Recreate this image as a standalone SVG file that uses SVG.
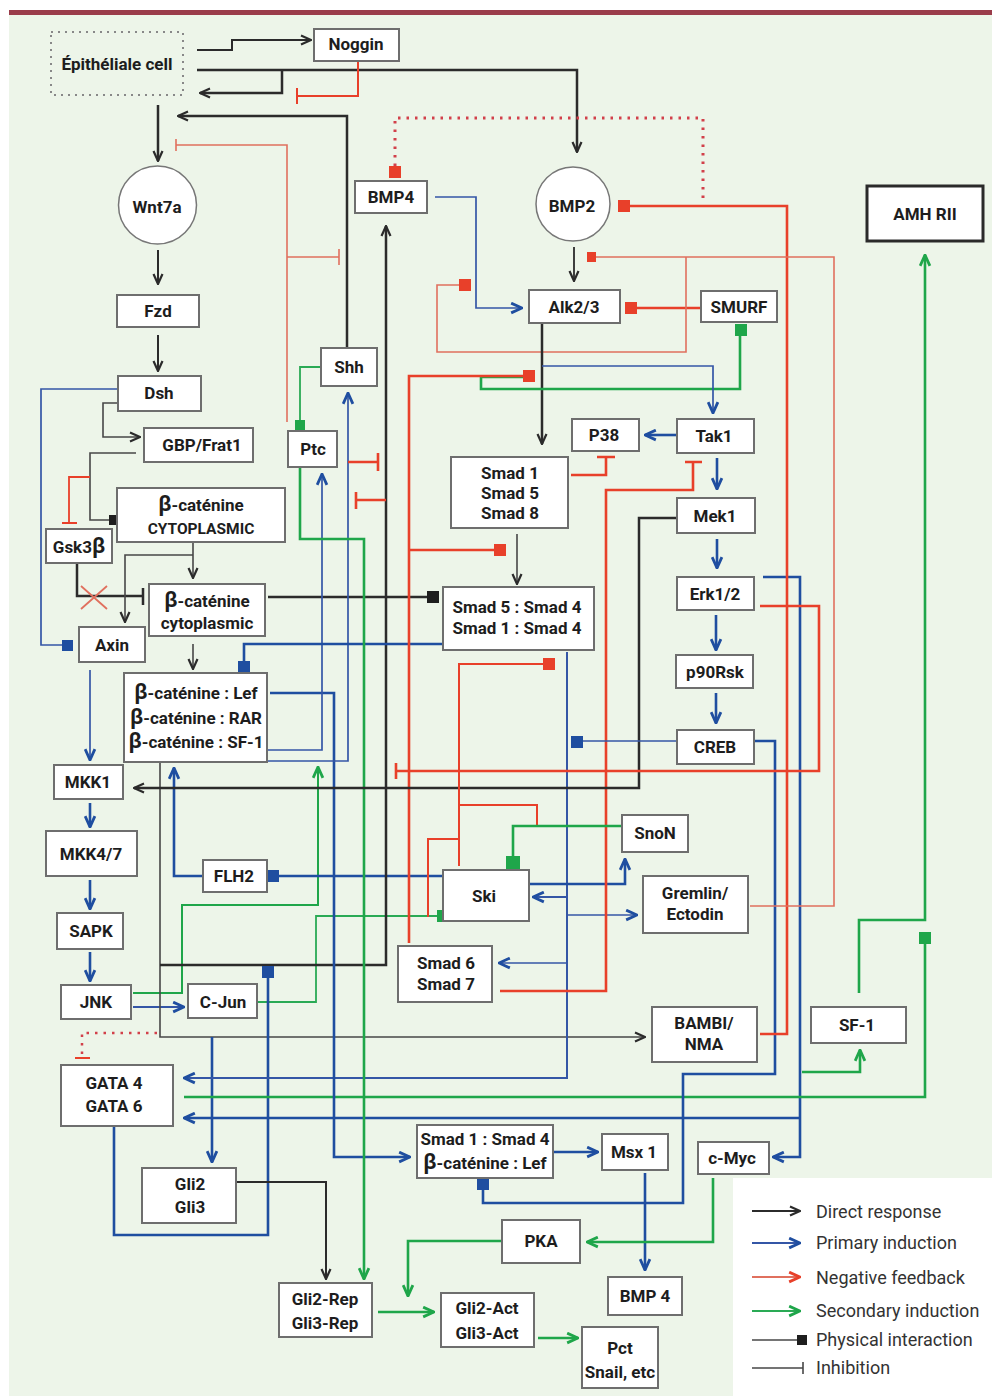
<svg xmlns="http://www.w3.org/2000/svg" width="992" height="1396" viewBox="0 0 992 1396">
<style>
.bg{fill:#edf5e9}
.box{fill:#fff;stroke:#6e6e6e;stroke-width:2}
.circ{fill:#fff;stroke:#777;stroke-width:1.5}
.lbl{font-family:Roboto,'Liberation Sans',sans-serif;font-weight:bold;font-size:17px;fill:#1d1d1d;text-anchor:middle}
.beta{font-size:22px}
.leg{font-family:Roboto,'Liberation Sans',sans-serif;font-size:18px;fill:#333}
.k{stroke:#2b2b2b;stroke-width:2.5;fill:none}
.kt{stroke:#474747;stroke-width:1.6;fill:none}
.b{stroke:#1f4ea0;stroke-width:2.6;fill:none}
.bt{stroke:#3456a6;stroke-width:1.7;fill:none}
.r{stroke:#e8402a;stroke-width:2.6;fill:none}
.rt{stroke:#e0705e;stroke-width:1.6;fill:none}
.rd{stroke:#d2404a;stroke-width:3;fill:none;stroke-dasharray:2.5,6}
.g{stroke:#1fa64a;stroke-width:2.6;fill:none}
.gt{stroke:#2aaa55;stroke-width:1.8;fill:none}
.sqk{fill:#1e1e1e}
.sqb{fill:#1f4ea0}
.sqr{fill:#e8402a}
.sqg{fill:#1fa64a}
</style>
<defs>
<marker id="ak" viewBox="0 0 12 12" refX="11" refY="6" markerWidth="12" markerHeight="12" markerUnits="userSpaceOnUse" orient="auto"><path d="M1,1.5 L11,6 L1,10.5" fill="none" stroke="#2b2b2b" stroke-width="2.2"/></marker>
<marker id="ab" viewBox="0 0 12 12" refX="11" refY="6" markerWidth="13" markerHeight="13" markerUnits="userSpaceOnUse" orient="auto"><path d="M1,1.5 L11,6 L1,10.5" fill="none" stroke="#1f4ea0" stroke-width="2.6"/></marker>
<marker id="ag" viewBox="0 0 12 12" refX="11" refY="6" markerWidth="13" markerHeight="13" markerUnits="userSpaceOnUse" orient="auto"><path d="M1,1.5 L11,6 L1,10.5" fill="none" stroke="#1fa64a" stroke-width="2.6"/></marker>
<marker id="ar" viewBox="0 0 12 12" refX="11" refY="6" markerWidth="13" markerHeight="13" markerUnits="userSpaceOnUse" orient="auto"><path d="M1,1.5 L11,6 L1,10.5" fill="none" stroke="#e8402a" stroke-width="2.6"/></marker>
</defs>
<rect width="992" height="1396" fill="#fff"/>
<rect class="bg" x="9" y="15" width="983" height="1381"/>
<rect x="9" y="10" width="983" height="5" fill="#9a3c4a"/>
<rect x="733" y="1178" width="259" height="218" fill="#fff"/>

<g id="connectors">
<path class="k" style="stroke-width:2" d="M197,50 H232 V40 H311" marker-end="url(#ak)"/>
<path class="k" d="M197,70 H577 V152" marker-end="url(#ak)"/>
<path class="k" d="M282,70 V93 H200" marker-end="url(#ak)"/>
<path class="r" style="stroke-width:2" d="M358,61 V96 H297 M297,88 V104"/>
<path class="k" d="M347,348 V116 H178" marker-end="url(#ak)"/>
<path class="k" d="M158,105 V161" marker-end="url(#ak)"/>
<path class="rt" d="M287,422 V145 H176 M176,139 V151"/>
<path class="rt" d="M287,257 H339 M339,249 V265"/>
<path class="k" style="stroke-width:2" d="M158,250 V284" marker-end="url(#ak)"/>
<path class="k" style="stroke-width:2" d="M158,335 V371" marker-end="url(#ak)"/>
<path class="kt" d="M118,403 H103 V437 H140" marker-end="url(#ak)"/>
<path class="bt" d="M118,389 H41 V645 H64"/>
<rect class="sqb" x="62" y="640" width="11" height="11"/>
<path class="kt" d="M136,453 H90 V520 H110"/>
<rect class="sqk" x="109" y="515" width="10" height="10"/>
<path class="r" style="stroke-width:1.8" d="M90,477 H69 V523 M62,523 H77"/>
<path class="k" d="M77,563 V596 H142 M143,588 V605"/>
<path class="rt" style="stroke-width:1.8" d="M81,586 L107,609 M81,609 L107,586"/>
<path class="kt" d="M193,543 V578" marker-end="url(#ak)"/>
<path class="kt" d="M193,555 H125 V622" marker-end="url(#ak)"/>
<path class="kt" d="M193,644 V669" marker-end="url(#ak)"/>
<path class="k" d="M268,597 H430"/>
<rect class="sqk" x="427" y="591" width="12" height="12"/>
<path class="bt" d="M90,670 V760" marker-end="url(#ab)"/>
<path class="b" d="M90,803 V827" marker-end="url(#ab)"/>
<path class="b" d="M90,880 V909" marker-end="url(#ab)"/>
<path class="b" d="M90,952 V981" marker-end="url(#ab)"/>
<path class="bt" style="stroke-width:2" d="M133,1007 H184" marker-end="url(#ab)"/>
<path class="g" style="stroke-width:2" d="M133,993 H182 V905 H318 V767" marker-end="url(#ag)"/>
<path class="gt" d="M258,1002 H316 V916 H440"/>
<rect class="sqg" x="437" y="910" width="12" height="12"/>
<path class="b" d="M203,876 H174 V768" marker-end="url(#ab)"/>
<path class="b" d="M278,876 H443"/>
<rect class="sqb" x="267" y="870" width="12" height="12"/>
<path class="kt" d="M160,762 V1037 H645" marker-end="url(#ak)"/>
<path class="k" d="M160,965 H386 V226" marker-end="url(#ak)"/>
<path class="b" d="M114,1126 V1235 H268 V975"/>
<rect class="sqb" x="262" y="966" width="12" height="12"/>
<path class="b" d="M212,1037 V1162" marker-end="url(#ab)"/>
<path class="bt" style="stroke-width:2" d="M567,652 V1078 H184" marker-end="url(#ab)"/>
<path class="bt" style="stroke-width:2" d="M567,897 H533" marker-end="url(#ab)"/>
<path class="bt" d="M567,915 H637" marker-end="url(#ab)"/>
<path class="bt" d="M567,963 H499" marker-end="url(#ab)"/>
<path class="b" d="M529,884 H625 V859" marker-end="url(#ab)"/>
<path class="b" d="M763,577 H800 V1157 H773" marker-end="url(#ab)"/>
<path class="b" d="M800,1118 H184" marker-end="url(#ab)"/>
<path class="g" d="M184,1097 H925 V944"/>
<rect class="sqg" x="919" y="932" width="12" height="12"/>
<path class="g" d="M859,993 V920 H925 V255" marker-end="url(#ag)"/>
<path class="g" d="M802,1072 H860 V1050" marker-end="url(#ag)"/>
<path class="b" d="M270,693 H334 V1157 H410" marker-end="url(#ab)"/>
<path class="bt" d="M268,750 H322 V474" marker-end="url(#ab)"/>
<path class="bt" d="M268,761 H348 V393" marker-end="url(#ab)"/>
<path class="b" d="M452,644 H244 V664"/>
<rect class="sqb" x="238" y="661" width="12" height="12"/>
<path class="b" d="M754,741 H775 V1074 H683 V1203 H483 V1188"/>
<rect class="sqb" x="477" y="1178" width="12" height="12"/>
<path class="b" d="M645,1173 V1270" marker-end="url(#ab)"/>
<path class="b" d="M553,1152 H598" marker-end="url(#ab)"/>
<path class="g" d="M713,1178 V1242 H587" marker-end="url(#ag)"/>
<path class="g" d="M502,1241 H408 V1296" marker-end="url(#ag)"/>
<path class="g" d="M378,1312 H434" marker-end="url(#ag)"/>
<path class="g" d="M538,1338 H578" marker-end="url(#ag)"/>
<path class="k" style="stroke-width:2" d="M236,1182 H326 V1279" marker-end="url(#ak)"/>
<path class="g" d="M300,467 V539 H364 V1279" marker-end="url(#ag)"/>
<path class="gt" d="M321,367 H300 V422"/>
<rect class="sqg" x="295" y="420" width="10" height="10"/>
<path class="r" d="M348,462 H378 M378,453 V471"/>
<path class="r" d="M386,500 H356 M356,492 V509"/>
<path class="r" d="M760,1034 H787 V206 H628"/>
<rect class="sqr" x="618" y="200" width="12" height="12"/>
<path class="rd" d="M395,166 V118 H703 V200"/>
<rect class="sqr" x="389" y="166" width="12" height="12"/>
<path class="rt" d="M750,906 H834 V257 H594"/>
<rect class="sqr" x="587" y="252" width="9" height="10"/>
<path class="r" d="M701,308 H635"/>
<rect class="sqr" x="625" y="302" width="12" height="12"/>
<path class="rt" d="M686,257 V352 H437 V285 H461"/>
<rect class="sqr" x="459" y="279" width="12" height="12"/>
<path class="bt" d="M435,197 H476 V308 H522" marker-end="url(#ab)"/>
<path class="k" style="stroke-width:1.8" d="M574,247 V281" marker-end="url(#ak)"/>
<path class="k" d="M542,323 V444" marker-end="url(#ak)"/>
<path class="g" d="M740,334 V389 H481 V377 H523"/>
<rect class="sqg" x="735" y="324" width="12" height="12"/>
<path class="r" d="M409,943 V376 H525"/>
<rect class="sqr" x="523" y="370" width="12" height="12"/>
<path class="r" d="M409,550 H496"/>
<rect class="sqr" x="494" y="544" width="12" height="12"/>
<path class="kt" d="M517,534 V584" marker-end="url(#ak)"/>
<path class="bt" d="M542,366 H713 V413" marker-end="url(#ab)"/>
<path class="b" d="M677,435 H645" marker-end="url(#ab)"/>
<path class="r" d="M571,475 H606 V457 M597,457 H615"/>
<path class="r" d="M500,991 H606 V490 H693 V463 M685,462 H702"/>
<path class="b" d="M717,458 V489" marker-end="url(#ab)"/>
<path class="b" d="M717,539 V568" marker-end="url(#ab)"/>
<path class="b" d="M716,615 V650" marker-end="url(#ab)"/>
<path class="b" d="M716,693 V723" marker-end="url(#ab)"/>
<path class="k" d="M677,518 H639 V788 H134" marker-end="url(#ak)"/>
<path class="r" d="M760,606 H819 V771 H396 M396,763 V779"/>
<path class="bt" d="M677,741 H580"/>
<rect class="sqb" x="571" y="736" width="12" height="12"/>
<path class="r" style="stroke-width:2" d="M459,866 V664 H545"/>
<rect class="sqr" x="543" y="658" width="12" height="12"/>
<path class="r" style="stroke-width:2" d="M459,805 H537 V826"/>
<path class="r" style="stroke-width:2" d="M428,917 V839 H459"/>
<path class="g" d="M622,826 H513 V858"/>
<rect class="sqg" x="506" y="856" width="14" height="14"/>
<path class="rd" style="stroke-width:2.5" d="M157,1033 H82 V1056"/>
<path class="r" style="stroke-width:2" d="M75,1058 H90"/>
</g>

<g id="n-epith"><rect x="51" y="32" width="132" height="63" fill="none" stroke="#888" stroke-width="2" stroke-dasharray="2,5"/><text class="lbl" x="117" y="70">Épithéliale cell</text></g>
<g id="n-noggin"><rect class="box" x="314" y="29" width="85" height="32"/><text class="lbl" x="356" y="50">Noggin</text></g>
<g id="n-wnt7a"><circle class="circ" cx="157.5" cy="205" r="39"/><text class="lbl" x="157" y="213">Wnt7a</text></g>
<g id="n-bmp4top"><rect class="box" x="355" y="181" width="72" height="32"/><text class="lbl" x="391" y="203">BMP4</text></g>
<g id="n-bmp2"><circle class="circ" cx="573" cy="204" r="37"/><text class="lbl" x="572" y="212">BMP2</text></g>
<g id="n-amh"><rect x="867" y="186" width="116" height="55" fill="#fff" stroke="#2a2a2a" stroke-width="3"/><text class="lbl" x="925" y="220">AMH RII</text></g>
<g id="n-fzd"><rect class="box" x="117" y="295" width="82" height="32"/><text class="lbl" x="158" y="317">Fzd</text></g>
<g id="n-alk"><rect class="box" x="529" y="290" width="91" height="33"/><text class="lbl" x="574" y="313">Alk2/3</text></g>
<g id="n-smurf"><rect class="box" x="701" y="291" width="76" height="31"/><text class="lbl" x="739" y="313">SMURF</text></g>
<g id="n-dsh"><rect class="box" x="118" y="376" width="83" height="35"/><text class="lbl" x="159" y="399">Dsh</text></g>
<g id="n-shh"><rect class="box" x="321" y="348" width="56" height="38"/><text class="lbl" x="349" y="373">Shh</text></g>
<g id="n-gbp"><rect class="box" x="144" y="428" width="109" height="34"/><text class="lbl" x="202" y="451">GBP/Frat1</text></g>
<g id="n-ptc"><rect class="box" x="288" y="431" width="49" height="36"/><text class="lbl" x="313" y="455">Ptc</text></g>
<g id="n-p38"><rect class="box" x="572" y="419" width="67" height="32"/><text class="lbl" x="604" y="441">P38</text></g>
<g id="n-tak1"><rect class="box" x="677" y="419" width="77" height="34"/><text class="lbl" x="714" y="442">Tak1</text></g>
<g id="n-betacyto1"><rect class="box" x="117" y="488" width="168" height="54"/><text class="lbl" x="201" y="511"><tspan class="beta">β</tspan>-caténine</text><text class="lbl" x="201" y="534" style="font-size:15.5px">CYTOPLASMIC</text></g>
<g id="n-smad158"><rect class="box" x="451" y="457" width="117" height="71"/><text class="lbl" x="510" y="479">Smad 1</text><text class="lbl" x="510" y="499">Smad 5</text><text class="lbl" x="510" y="519">Smad 8</text></g>
<g id="n-mek1"><rect class="box" x="677" y="498" width="78" height="35"/><text class="lbl" x="715" y="522">Mek1</text></g>
<g id="n-gsk3b"><rect class="box" x="46" y="529" width="66" height="34"/><text class="lbl" x="79" y="553">Gsk3<tspan class="beta">β</tspan></text></g>
<g id="n-betacyto2"><rect class="box" x="149" y="584" width="116" height="52"/><text class="lbl" x="207" y="607"><tspan class="beta">β</tspan>-caténine</text><text class="lbl" x="207" y="629">cytoplasmic</text></g>
<g id="n-smad54"><rect class="box" x="443" y="587" width="151" height="63"/><text class="lbl" x="517" y="613">Smad 5 : Smad 4</text><text class="lbl" x="517" y="634">Smad 1 : Smad 4</text></g>
<g id="n-erk"><rect class="box" x="677" y="577" width="77" height="33"/><text class="lbl" x="715" y="600">Erk1/2</text></g>
<g id="n-axin"><rect class="box" x="79" y="627" width="66" height="35"/><text class="lbl" x="112" y="651">Axin</text></g>
<g id="n-betalef"><rect class="box" x="124" y="673" width="143" height="89"/><text class="lbl" x="196" y="699"><tspan class="beta">β</tspan>-caténine : Lef</text><text class="lbl" x="196" y="724"><tspan class="beta">β</tspan>-caténine : RAR</text><text class="lbl" x="196" y="748"><tspan class="beta">β</tspan>-caténine : SF-1</text></g>
<g id="n-p90"><rect class="box" x="676" y="655" width="77" height="33"/><text class="lbl" x="715" y="678">p90Rsk</text></g>
<g id="n-creb"><rect class="box" x="677" y="730" width="77" height="34"/><text class="lbl" x="715" y="753">CREB</text></g>
<g id="n-mkk1"><rect class="box" x="54" y="765" width="69" height="34"/><text class="lbl" x="88" y="788">MKK1</text></g>
<g id="n-snon"><rect class="box" x="622" y="815" width="66" height="37"/><text class="lbl" x="655" y="839">SnoN</text></g>
<g id="n-mkk47"><rect class="box" x="46" y="831" width="91" height="45"/><text class="lbl" x="91" y="860">MKK4/7</text></g>
<g id="n-flh2"><rect class="box" x="203" y="860" width="64" height="32"/><text class="lbl" x="234" y="882">FLH2</text></g>
<g id="n-ski"><rect class="box" x="443" y="870" width="86" height="51"/><text class="lbl" x="484" y="902">Ski</text></g>
<g id="n-gremlin"><rect class="box" x="643" y="876" width="105" height="57"/><text class="lbl" x="695" y="899">Gremlin/</text><text class="lbl" x="695" y="920">Ectodin</text></g>
<g id="n-sapk"><rect class="box" x="57" y="913" width="66" height="36"/><text class="lbl" x="91" y="937">SAPK</text></g>
<g id="n-smad67"><rect class="box" x="398" y="946" width="94" height="56"/><text class="lbl" x="446" y="969">Smad 6</text><text class="lbl" x="446" y="990">Smad 7</text></g>
<g id="n-jnk"><rect class="box" x="61" y="985" width="70" height="34"/><text class="lbl" x="96" y="1008">JNK</text></g>
<g id="n-cjun"><rect class="box" x="188" y="984" width="69" height="34"/><text class="lbl" x="223" y="1008">C-Jun</text></g>
<g id="n-bambi"><rect class="box" x="652" y="1007" width="105" height="55"/><text class="lbl" x="704" y="1029">BAMBI/</text><text class="lbl" x="704" y="1050">NMA</text></g>
<g id="n-sf1"><rect class="box" x="811" y="1007" width="95" height="36"/><text class="lbl" x="857" y="1031">SF-1</text></g>
<g id="n-gata"><rect class="box" x="61" y="1065" width="112" height="61"/><text class="lbl" x="114" y="1089">GATA 4</text><text class="lbl" x="114" y="1112">GATA 6</text></g>
<g id="n-smad14lef"><rect class="box" x="417" y="1125" width="136" height="53"/><text class="lbl" x="485" y="1145">Smad 1 : Smad 4</text><text class="lbl" x="485" y="1169"><tspan class="beta">β</tspan>-caténine : Lef</text></g>
<g id="n-msx1"><rect class="box" x="602" y="1134" width="66" height="36"/><text class="lbl" x="634" y="1158">Msx 1</text></g>
<g id="n-cmyc"><rect class="box" x="698" y="1142" width="71" height="32"/><text class="lbl" x="732" y="1164">c-Myc</text></g>
<g id="n-gli23"><rect class="box" x="142" y="1168" width="94" height="55"/><text class="lbl" x="190" y="1190">Gli2</text><text class="lbl" x="190" y="1213">Gli3</text></g>
<g id="n-pka"><rect class="box" x="502" y="1220" width="78" height="43"/><text class="lbl" x="541" y="1247">PKA</text></g>
<g id="n-glirep"><rect class="box" x="279" y="1283" width="93" height="54"/><text class="lbl" x="325" y="1305">Gli2-Rep</text><text class="lbl" x="325" y="1329">Gli3-Rep</text></g>
<g id="n-bmp4bot"><rect class="box" x="608" y="1277" width="74" height="38"/><text class="lbl" x="645" y="1302">BMP 4</text></g>
<g id="n-gliact"><rect class="box" x="441" y="1293" width="93" height="54"/><text class="lbl" x="487" y="1314">Gli2-Act</text><text class="lbl" x="487" y="1339">Gli3-Act</text></g>
<g id="n-pct"><rect class="box" x="582" y="1327" width="76" height="61"/><text class="lbl" x="620" y="1354">Pct</text><text class="lbl" x="620" y="1378">Snail, etc</text></g>

<g id="legend">
<path class="k" style="stroke-width:1.8" d="M752,1211 H800" marker-end="url(#ak)"/>
<path class="bt" style="stroke-width:2" d="M752,1243 H800" marker-end="url(#ab)"/>
<path class="rt" style="stroke-width:2" d="M752,1277 H800" marker-end="url(#ar)"/>
<path class="gt" style="stroke-width:2" d="M752,1311 H800" marker-end="url(#ag)"/>
<path class="kt" d="M752,1340 H798"/>
<rect class="sqk" x="797" y="1335" width="10" height="10"/>
<path class="kt" d="M752,1368 H803 M803,1362 V1374"/>
<text class="leg" x="816" y="1218">Direct response</text>
<text class="leg" x="816" y="1249">Primary induction</text>
<text class="leg" x="816" y="1284">Negative feedback</text>
<text class="leg" x="816" y="1317">Secondary induction</text>
<text class="leg" x="816" y="1346">Physical interaction</text>
<text class="leg" x="816" y="1374">Inhibition</text>
</g>
</svg>
